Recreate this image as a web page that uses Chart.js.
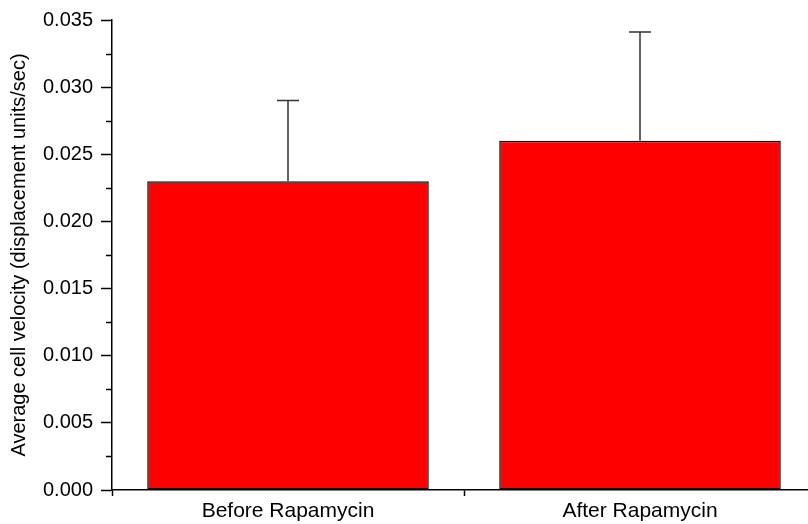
<!DOCTYPE html>
<html>
<head>
<meta charset="utf-8">
<script src="https://cdn.jsdelivr.net/npm/chart.js@4.4.1/dist/chart.umd.min.js"></script>
<style>
  html, body { margin: 0; padding: 0; background: #fff; overflow: hidden; }
  #chart { display: block; }
</style>
</head>
<body>
<canvas id="chart" width="816" height="524"></canvas>
<script>
// data
const categories = ['Before Rapamycin', 'After Rapamycin'];
const velocity = [0.0230, 0.0260];
const errorPlus = [0.0060, 0.0081];
const yTicks = [0, 0.005, 0.010, 0.015, 0.020, 0.025, 0.030, 0.035];

const FONT = 'Arial, "Liberation Sans", sans-serif';

// one-sided error bars (upper only)
const errorBars = {
  id: 'errorBars',
  afterDatasetsDraw(chart) {
    const meta = chart.getDatasetMeta(0);
    const y = chart.scales.y;
    const ctx = chart.ctx;
    ctx.save();
    ctx.strokeStyle = '#333';
    ctx.lineWidth = 1.5;
    meta.data.forEach((bar, i) => {
      const top = y.getPixelForValue(velocity[i] + errorPlus[i]);
      const base = y.getPixelForValue(velocity[i]);
      ctx.beginPath();
      ctx.moveTo(bar.x, base);
      ctx.lineTo(bar.x, top);
      ctx.moveTo(bar.x - 11, top);
      ctx.lineTo(bar.x + 11, top);
      ctx.stroke();
    });
    ctx.restore();
  }
};

// minor ticks halfway between the labelled ones
const minorTicks = {
  id: 'minorTicks',
  afterDraw(chart) {
    const y = chart.scales.y;
    const ctx = chart.ctx;
    const x0 = chart.chartArea.left;
    ctx.save();
    ctx.strokeStyle = '#000';
    ctx.lineWidth = 1.5;
    for (let i = 0; i < yTicks.length - 1; i++) {
      const py = Math.round(y.getPixelForValue((yTicks[i] + yTicks[i + 1]) / 2)) + 0.5;
      ctx.beginPath();
      ctx.moveTo(x0 - 6, py);
      ctx.lineTo(x0, py);
      ctx.stroke();
    }
    ctx.restore();
  }
};

new Chart(document.getElementById('chart').getContext('2d'), {
  type: 'bar',
  data: {
    labels: categories,
    datasets: [{
      data: velocity,
      backgroundColor: '#ff0000',
      borderColor: '#111',
      borderWidth: 1.5,
      borderSkipped: false,
      categoryPercentage: 1,
      barPercentage: 0.8
    }]
  },
  options: {
    responsive: false,
    devicePixelRatio: 1,
    animation: false,
    layout: { padding: { top: 20, left: 0, right: 0, bottom: 0 } },
    plugins: { legend: { display: false }, tooltip: { enabled: false } },
    scales: {
      x: {
        grid: { drawOnChartArea: false, tickLength: 6, tickColor: '#000', tickWidth: 1.5 },
        border: { color: '#000', width: 1.5 },
        ticks: { color: '#000', padding: 3, font: { family: FONT, size: 21 } },
        afterFit(scale) { scale.height = 34; }
      },
      y: {
        min: 0,
        max: 0.035,
        grid: { drawOnChartArea: false, tickLength: 11, tickColor: '#000', tickWidth: 1.5 },
        border: { color: '#000', width: 1.5 },
        afterBuildTicks(scale) { scale.ticks = yTicks.map((v) => ({ value: v })); },
        ticks: {
          color: '#000',
          padding: 8,
          font: { family: FONT, size: 20 },
          callback: (v) => Number(v).toFixed(3)
        },
        title: {
          display: true,
          text: 'Average cell velocity (displacement units/sec)',
          color: '#000',
          font: { family: FONT, size: 20 },
          padding: { top: 7, bottom: 0 }
        },
        afterFit(scale) { scale.width = 112; }
      }
    }
  },
  plugins: [errorBars, minorTicks]
});
</script>
</body>
</html>
